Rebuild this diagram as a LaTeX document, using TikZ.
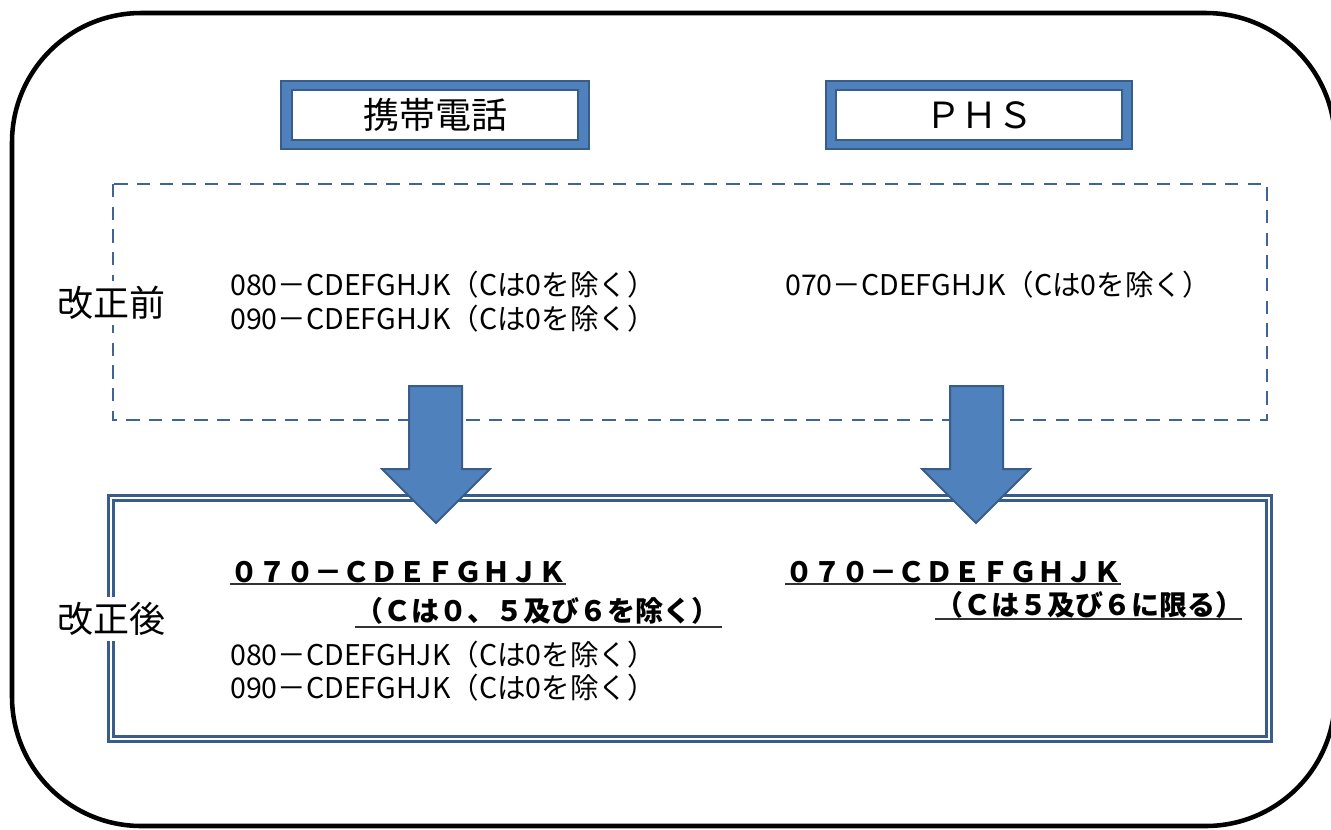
\documentclass[tikz,border=0pt]{standalone}
\usepackage{fontspec}
\setmainfont{Noto Sans CJK JP}
\definecolor{hdblue}{HTML}{4F81BD}
\definecolor{hdedge}{HTML}{385D8A}
\definecolor{dashblue}{HTML}{3F6496}

\begin{document}
\begin{tikzpicture}[x=0.75pt,y=-0.75pt,
  hdbox/.style={draw=hdedge,line width=1.5pt,fill=hdblue},
  hdinner/.style={draw=hdedge,line width=1.2pt,fill=white,minimum width=214.5pt,minimum height=37.5pt,inner sep=0pt,font=\fontsize{27pt}{30pt}\selectfont},
  stage/.style={fill=white,inner sep=4pt,font=\fontsize{27pt}{30pt}\selectfont},
  num/.style={anchor=west,inner sep=0pt,font=\fontsize{21.4pt}{24pt}\selectfont},
  bnum/.style={anchor=west,inner sep=0pt,font=\bfseries\fontsize{21pt}{24pt}\selectfont},
  uline/.style={line width=1.2pt,black!80},
  barrow/.style={draw=hdedge,line width=1.5pt,fill=hdblue,line join=miter},
]
  \useasboundingbox (0,0) rectangle (1331,829);
  \clip (0,0) rectangle (1331,829);
  \draw[line width=3.4pt,rounded corners=97pt] (12,13) rectangle (1335,826);

  \draw[hdbox] (281,81) rectangle (589,149);
  \node[hdinner] (mobile) at (435,115) {携帯電話};
  \draw[hdbox] (826,81) rectangle (1132,149);
  \node[hdinner] (phs) at (979,115) {ＰＨＳ};

  \draw[dashblue,line width=2pt,dash pattern=on 10pt off 7pt] (113,184) rectangle (1267,420);
  \draw[hdedge,line width=2.4pt,double=white,double distance=1.6pt] (111,498) rectangle (1269,739);

  \draw[barrow] (409,386) -- (462,386) -- (462,469) -- (490,469) -- (436,523) -- (382,469) -- (409,469) -- cycle;
  \draw[barrow] (950,386) -- (1003,386) -- (1003,469) -- (1030,469) -- (976,523) -- (922,469) -- (950,469) -- cycle;

  \node[stage] (before) at (111,303) {改正前};
  \node[stage] (after) at (111,619) {改正後};

  \node[num] (b080) at (230,285) {080－CDEFGHJK（Cは0を除く）};
  \node[num] (b090) at (230,319) {090－CDEFGHJK（Cは0を除く）};
  \node[num] (b070) at (785,285) {070－CDEFGHJK（Cは0を除く）};

  \node[bnum] (a070) at (230,572) {０７０－ＣＤＥＦＧＨＪＫ};
  \draw[uline] (230,584) -- (566,584);
  \node[bnum] (a070c) at (355,611) {（Ｃは０、５及び６を除く）};
  \draw[uline] (355,627) -- (722,627);
  \node[num] (a080) at (230,655) {080－CDEFGHJK（Cは0を除く）};
  \node[num] (a090) at (230,688) {090－CDEFGHJK（Cは0を除く）};

  \node[bnum] (p070) at (785,572) {０７０－ＣＤＥＦＧＨＪＫ};
  \draw[uline] (785,584) -- (1121,584);
  \node[bnum] (p070c) at (935,605) {（Ｃは５及び６に限る）};
  \draw[uline] (935,619) -- (1242,619);
\end{tikzpicture}
\end{document}
